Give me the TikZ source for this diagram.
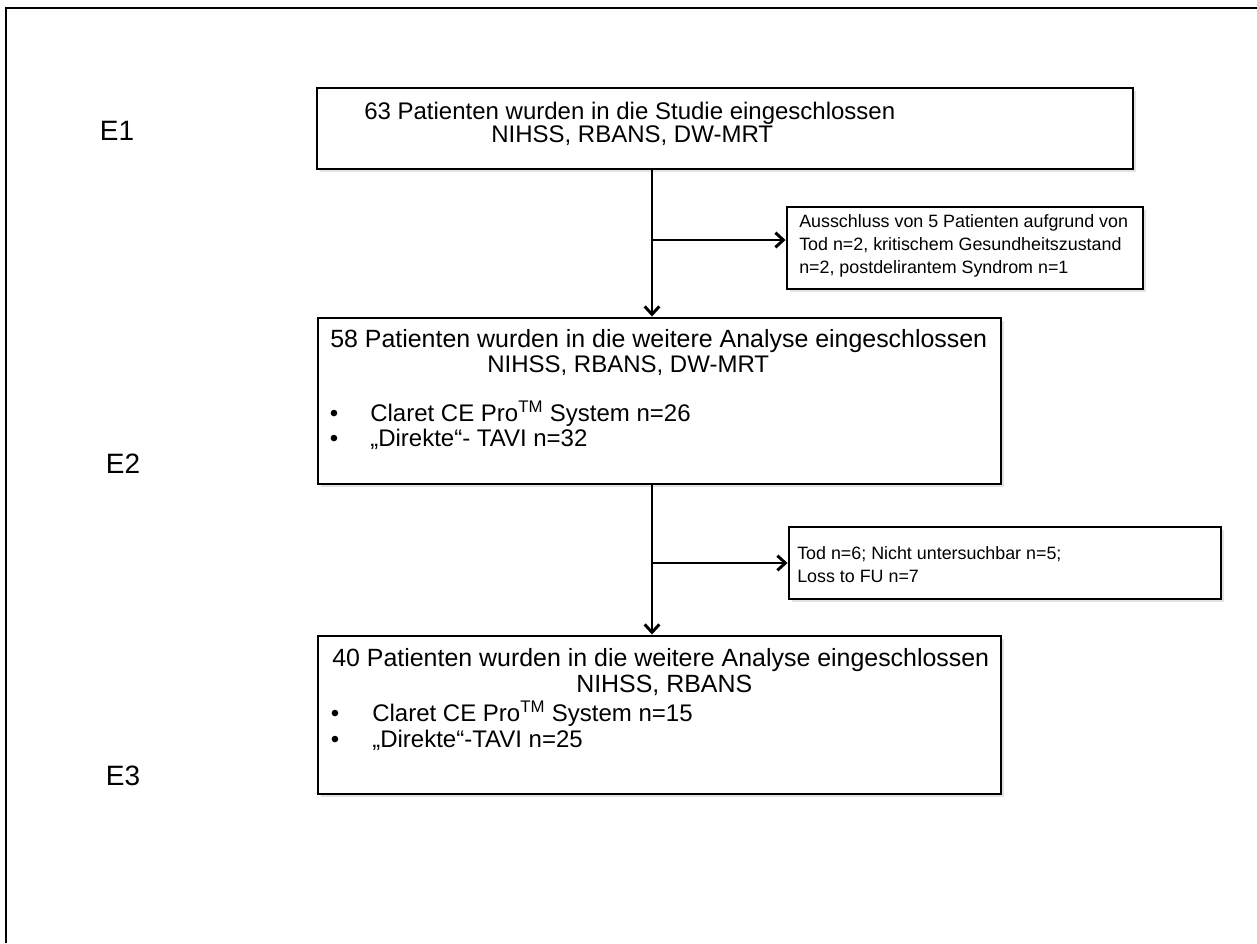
\documentclass[tikz,border=0pt]{standalone}
\usepackage{fontspec}
\setmainfont{Liberation Sans}
\usetikzlibrary{arrows.meta,shadows}
\begin{document}
\begin{tikzpicture}[x=0.75pt,y=-0.75pt,
  box/.style={draw=black,line width=2.2pt,fill=white,inner sep=0pt,
    drop shadow={shadow xshift=2pt,shadow yshift=-2pt,opacity=0.22,fill=gray}},
  mainleft/.style={inner sep=0pt,anchor=base west,font=\fontsize{18}{21}\selectfont},
  headleft/.style={inner sep=0pt,anchor=base west,font=\fontsize{18.7}{22}\selectfont},
  bullet/.style={inner sep=0pt,anchor=base,font=\fontsize{18}{21}\selectfont},
  sidetext/.style={inner sep=0pt,anchor=base west,font=\fontsize{13.4}{16}\selectfont},
  elabel/.style={inner sep=0pt,anchor=base,font=\fontsize{21}{24}\selectfont},
  arr/.style={line width=2.2pt,-{Straight Barb[length=6pt,width=11pt]}}
]
\useasboundingbox (0,0) rectangle (1257,943);
\draw[line width=1.6pt] (1257,8) -- (6,8) -- (6,943);

% boxes
\node[box,minimum width=612pt,minimum height=60.75pt] (b1) at (725,128.5) {};
\node[box,minimum width=267pt,minimum height=61.5pt] (s1) at (965,248) {};
\node[box,minimum width=512.25pt,minimum height=124.5pt] (b2) at (659.5,401) {};
\node[box,minimum width=324pt,minimum height=54pt] (s2) at (1005,563) {};
\node[box,minimum width=512.25pt,minimum height=118.5pt] (b3) at (659.5,715) {};

% labels
\node[elabel] (e1) at (117,140) {E1};
\node[elabel] (e2) at (123,473) {E2};
\node[elabel] (e3) at (123,785) {E3};

% box 1
\node[mainleft] (t11) at (364,119) {63 Patienten wurden in die Studie eingeschlossen};
\node[mainleft] (t12) at (491,142) {NIHSS, RBANS, DW-MRT};

% side 1
\node[sidetext] (u11) at (799,227) {Ausschluss von 5 Patienten aufgrund von};
\node[sidetext] (u12) at (799,250) {Tod n=2, kritischem Gesundheitszustand};
\node[sidetext] (u13) at (799,273) {n=2, postdelirantem Syndrom n=1};

% box 2
\node[headleft] (t21) at (330,347) {58 Patienten wurden in die weitere Analyse eingeschlossen};
\node[mainleft] (t22) at (487,372) {NIHSS, RBANS, DW-MRT};
\node[bullet] (p21) at (334,421) {•};
\node[mainleft] (t23) at (370,421) {Claret CE Pro\textsuperscript{TM} System n=26};
\node[bullet] (p22) at (334,446) {•};
\node[mainleft] (t24) at (370,446) {„Direkte“- TAVI n=32};

% side 2
\node[sidetext] (u21) at (797,559) {Tod n=6; Nicht untersuchbar n=5;};
\node[sidetext] (u22) at (797,582) {Loss to FU n=7};

% box 3
\node[headleft] (t31) at (332,666) {40 Patienten wurden in die weitere Analyse eingeschlossen};
\node[headleft] (t32) at (576,692) {NIHSS, RBANS};
\node[bullet] (p31) at (335,721) {•};
\node[mainleft] (t33) at (372,721) {Claret CE Pro\textsuperscript{TM} System n=15};
\node[bullet] (p32) at (335,747) {•};
\node[mainleft] (t34) at (372,747) {„Direkte“-TAVI n=25};

% connectors
\coordinate (v) at (652,0);
\coordinate (j1) at (652,240);
\coordinate (j2) at (652,563);
\draw[arr] (v |- b1.south) -- (v |- b2.north);
\draw[arr] (j1) -- (j1 -| s1.west);
\draw[arr] (v |- b2.south) -- (v |- b3.north);
\draw[arr] (j2) -- (j2 -| s2.west);
\end{tikzpicture}
\end{document}
